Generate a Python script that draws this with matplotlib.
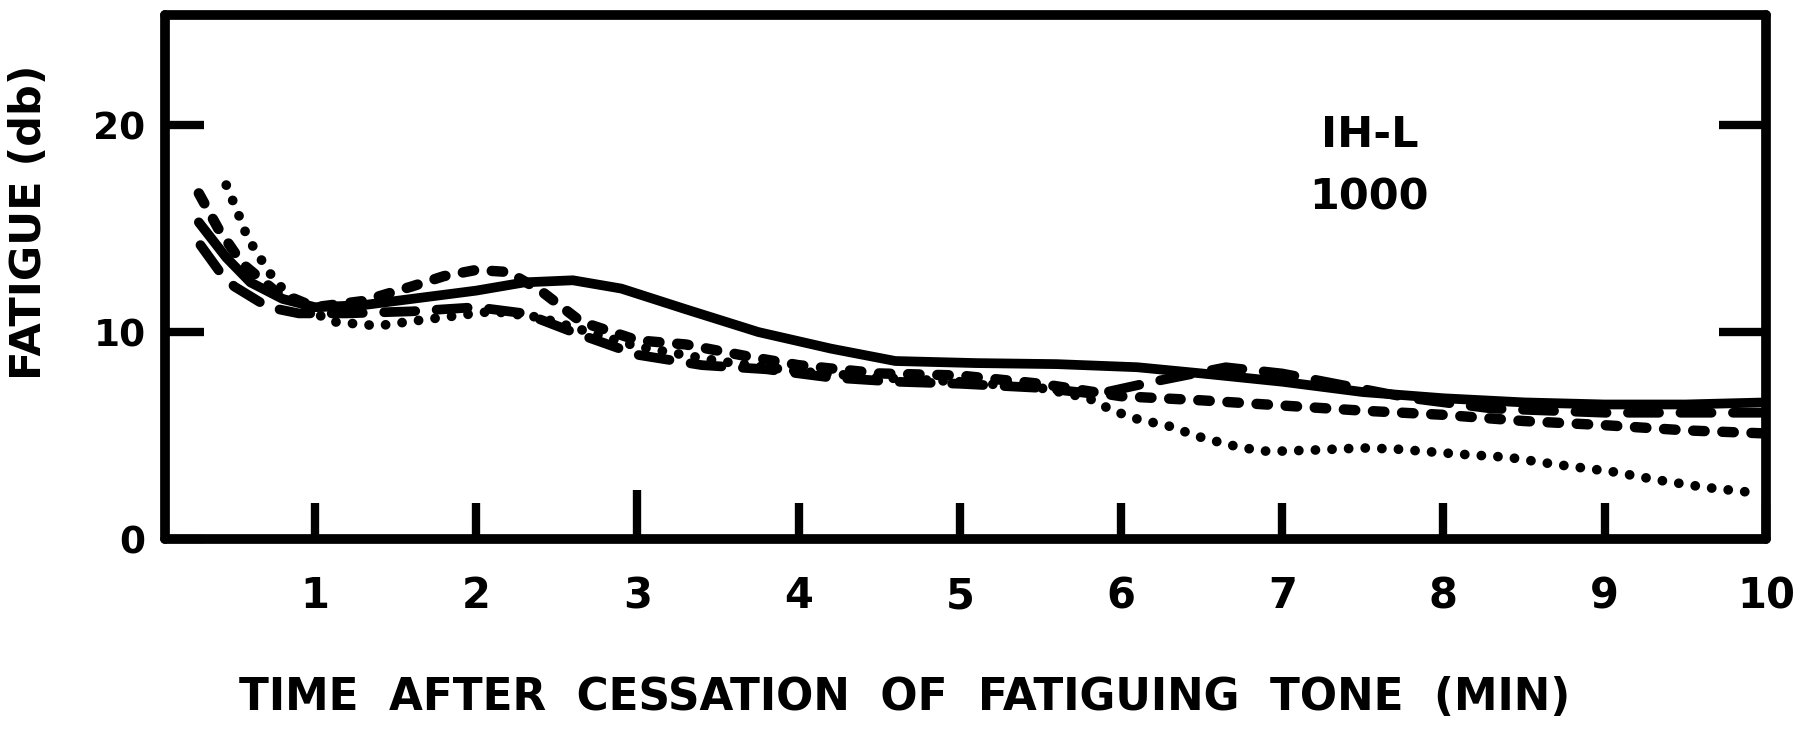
import numpy as np
import matplotlib.pyplot as plt

# values (minutes, dB)
solid_x = [0.28, 0.45, 0.6, 0.8, 1.0, 1.3, 1.6, 2.0, 2.3, 2.6, 2.9, 3.3, 3.75, 4.2,
           4.6, 5.1, 5.6, 6.1, 6.5, 7.0, 7.5, 8.0, 8.5, 9.0, 9.5, 10.0]
solid_y = [15.3, 13.6, 12.4, 11.6, 11.2, 11.3, 11.6, 12.0, 12.4, 12.5, 12.1, 11.1, 10.0, 9.2,
           8.6, 8.5, 8.45, 8.3, 8.0, 7.6, 7.1, 6.8, 6.6, 6.5, 6.5, 6.6]

dashed_x = [0.28, 0.4, 0.55, 0.75, 1.0, 1.3, 1.6, 1.8, 2.0, 2.2, 2.4, 2.65, 3.0, 3.3,
            3.7, 4.0, 4.5, 5.0, 5.5, 6.0, 6.5, 7.0, 7.5, 8.0, 8.5, 9.0, 9.5, 10.0]
dashed_y = [16.7, 15.0, 13.3, 12.0, 11.2, 11.5, 12.2, 12.7, 13.0, 12.9, 12.0, 10.5, 9.6, 9.4,
            8.8, 8.4, 8.0, 7.9, 7.5, 6.9, 6.7, 6.45, 6.2, 6.0, 5.7, 5.5, 5.25, 5.1]

dotted_x = [0.45, 0.52, 0.58, 0.65, 0.75, 0.9, 1.11, 1.39, 1.68, 1.89, 2.1, 2.4, 2.7, 3.0,
            3.5, 4.0, 4.5, 5.0, 5.5, 5.8, 5.95, 6.1, 6.3, 6.48, 6.67, 6.87, 7.0, 7.2,
            7.5, 7.7, 8.1, 8.4, 8.7, 9.05, 9.33, 9.62, 9.91]
dotted_y = [17.1, 15.8, 14.6, 13.7, 12.5, 11.3, 10.5, 10.3, 10.6, 10.8, 11.0, 10.7, 10.0, 9.3,
            8.6, 8.1, 7.8, 7.6, 7.3, 6.8, 6.2, 5.8, 5.45, 4.95, 4.55, 4.25, 4.25, 4.3,
            4.4, 4.35, 4.1, 3.95, 3.6, 3.25, 2.85, 2.5, 2.25]

longdash_x = [0.29, 0.42, 0.5, 0.71, 0.9, 1.2, 1.6, 2.0, 2.3, 2.6, 3.0, 3.4, 3.8, 4.2,
              4.6, 5.0, 5.5, 5.85, 6.2, 6.65, 7.0, 7.4, 7.8, 8.3, 9.0, 10.0]
longdash_y = [14.2, 12.8, 12.2, 11.2, 10.9, 10.9, 11.0, 11.2, 10.9, 10.0, 8.9, 8.4, 8.2, 7.8,
              7.6, 7.5, 7.3, 7.0, 7.6, 8.3, 8.0, 7.4, 6.8, 6.3, 6.1, 6.1]

x_ticks = [1, 2, 3, 4, 5, 6, 7, 8, 9, 10]
y_ticks = [0, 10, 20]

fig = plt.figure(figsize=(18.09, 7.30), dpi=100)
ax = fig.add_axes([0.0912, 0.2616, 0.885, 0.7174])

# curves
ax.plot(solid_x, solid_y, color='black', lw=7, solid_capstyle='round', solid_joinstyle='round')
ax.plot(dashed_x, dashed_y, color='black', lw=7.5, dashes=(1.1, 1.7), dash_capstyle='round')
ax.plot(dotted_x, dotted_y, color='black', lw=7, dashes=(0.01, 1.7), dash_capstyle='round')
ax.plot(longdash_x, longdash_y, color='black', lw=7, dashes=(3.2, 2.2), dash_capstyle='round')

ax.set_xlim(0.07, 10)
ax.set_ylim(0, 25.3)

for s in ax.spines.values():
    s.set_linewidth(7)
    s.set_capstyle('round')

ax.set_xticks(x_ticks)
ax.set_xticklabels([str(t) for t in x_ticks])
ax.set_yticks(y_ticks)
ax.set_yticklabels([str(t) for t in y_ticks])
ax.tick_params(axis='x', direction='in', length=26, width=6, pad=26,
               labelsize=30)
ax.tick_params(axis='y', direction='in', length=28, width=6, pad=14,
               labelsize=27, right=True)
for lab in ax.get_xticklabels() + ax.get_yticklabels():
    lab.set_fontweight('bold')

# right-hand ticks are a little longer, and the "3" tick is taller
for t in ax.yaxis.get_major_ticks():
    t.tick2line.set_markersize(34)
ax.xaxis.get_major_ticks()[2].tick1line.set_markersize(35)

fig.text(0.757, 0.815, 'IH-L', ha='center', va='center',
         fontsize=31, fontweight='bold')
fig.text(0.757, 0.729, '1000', ha='center', va='center',
         fontsize=31, fontweight='bold')

fig.text(0.016, 0.696, 'FATIGUE (db)', rotation=90, ha='center', va='center',
         fontsize=31, fontweight='bold')
fig.text(0.5, 0.044, 'TIME  AFTER  CESSATION  OF  FATIGUING  TONE  (MIN)',
         ha='center', va='center', fontsize=31.5, fontweight='bold')

fig.savefig('out.png', dpi=100, facecolor='white')
